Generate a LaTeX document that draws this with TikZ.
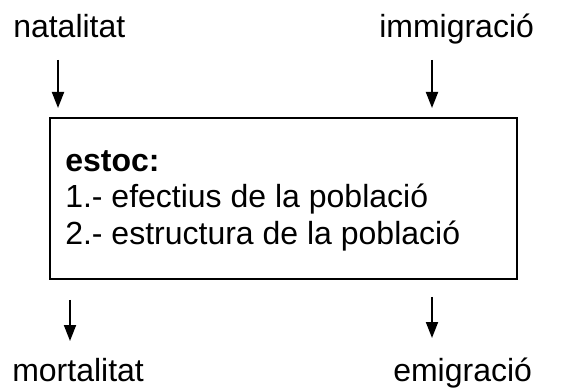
\documentclass[tikz,border=0pt]{standalone}
\usepackage{fontspec}
\setmainfont{Liberation Sans}
\usetikzlibrary{arrows.meta}
\begin{document}
\begin{tikzpicture}[x=0.75pt,y=-0.75pt,
  lbl/.style={anchor=base west,inner sep=0pt,font=\fontsize{24}{28}\selectfont},
  flow/.style={line width=1.4pt,-{Triangle[length=12pt,width=9pt]}},
  boxline/.style={line width=2pt}]
\useasboundingbox (0,0) rectangle (571,388);
% labels
\node[lbl] (nat) at (13,38) {natalitat};
\node[lbl] (imm) at (379,38) {immigració};
\node[lbl] (mor) at (12,381) {mortalitat};
\node[lbl] (emi) at (393,381) {emigració};
% box
\draw[boxline] (50,118) rectangle (517,279);
\node[lbl] (t1) at (65,172) {\textbf{estoc:}};
\node[lbl] (t2) at (65,208) {1.- efectius de la població};
\node[lbl] (t3) at (65,245) {2.- estructura de la població};
% arrow endpoints
\coordinate (natA) at (58,60);
\coordinate (natB) at (58,108);
\coordinate (immA) at (432,60);
\coordinate (immB) at (432,108);
\coordinate (morA) at (70,300);
\coordinate (morB) at (70,341);
\coordinate (emiA) at (432,297);
\coordinate (emiB) at (432,338);
\draw[flow] (natA) -- (natB);
\draw[flow] (immA) -- (immB);
\draw[flow] (morA) -- (morB);
\draw[flow] (emiA) -- (emiB);
\end{tikzpicture}
\end{document}
